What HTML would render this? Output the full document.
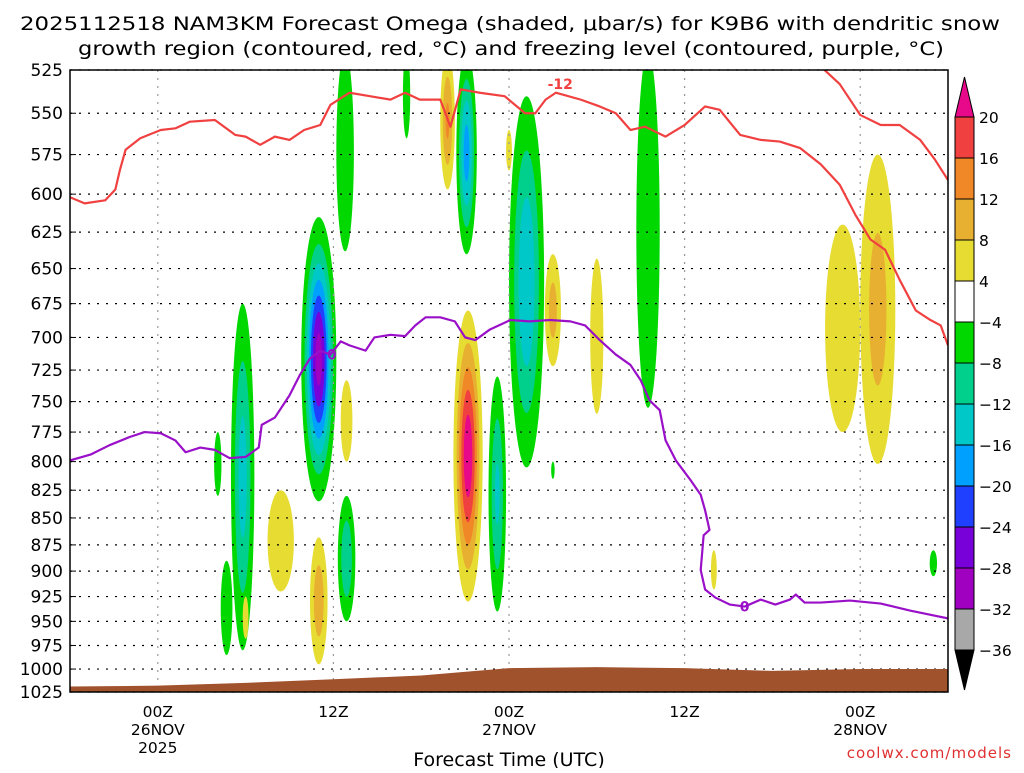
<!DOCTYPE html>
<html><head><meta charset="utf-8"><style>
body{margin:0;background:#fff;}
svg text{font-family:"DejaVu Sans","Liberation Sans",sans-serif;}
</style></head><body>
<svg id="chart" width="1024" height="768" viewBox="0 0 1024 768" xmlns="http://www.w3.org/2000/svg">
<defs><clipPath id="plotclip"><rect x="70" y="70" width="878" height="622"/></clipPath></defs>
<text x="20" y="30" font-size="19" textLength="980" lengthAdjust="spacingAndGlyphs">2025112518 NAM3KM Forecast Omega (shaded, μbar/s) for K9B6 with dendritic snow</text>
<text x="78" y="55" font-size="19" textLength="866" lengthAdjust="spacingAndGlyphs">growth region (contoured, red, °C) and freezing level (contoured, purple, °C)</text>
<g id="shade" clip-path="url(#plotclip)"></g>
<g id="grid"></g>
<g id="terrain" clip-path="url(#plotclip)"></g>
<g id="lines" clip-path="url(#plotclip)"></g>
<rect x="70" y="70" width="878" height="622" fill="none" stroke="#000" stroke-width="1.5"/>
<g id="yaxis"></g>
<g id="xaxis"></g>
<text x="509" y="766" font-size="19" text-anchor="middle">Forecast Time (UTC)</text>
<text x="1012" y="758" font-size="15" fill="#e03030" text-anchor="end" letter-spacing="1">coolwx.com/models</text>
<g id="cbar"></g>
</svg>
<script>
// ---- data ----
const pressureTicks=[525,550,575,600,625,650,675,700,725,750,775,800,825,850,875,900,925,950,975,1000,1025];
const timeTicksHours=[6,18,30,42,54];
const timeTickLabels=[["00Z","26NOV","2025"],["12Z"],["00Z","27NOV"],["12Z"],["00Z","28NOV"]];
const cbarLevels=[20,16,12,8,4,-4,-8,-12,-16,-20,-24,-28,-32,-36];
const cbarColors=["#f04040","#f08828","#e8b030","#e6dc32","#ffffff","#00d800","#00d08c","#00c8c8","#00a0ff","#2040ff","#7800d8","#a000c0","#a8a8a8"];
// blobs: center hour, half-width (h), top pressure, bottom pressure, peak omega
const blobHour=[18.8,17.0,11.8,10.1,10.7,18.9,27.1,31.2,29.2,39.5,23.0,33.0,59.0,27.2,25.8,30.0,33.0,36.0,18.9,14.4,17.0,12.0,52.8,55.2,44.0];
const blobHalfW=[0.6,1.2,0.8,0.25,0.4,0.6,0.7,1.2,0.6,0.8,0.25,0.12,0.25,1.0,0.5,0.2,0.55,0.45,0.4,0.9,0.6,0.2,1.2,1.2,0.2];
const blobPTop=[515,615,675,775,890,830,515,540,730,515,515,800,880,680,515,560,640,643,733,825,868,925,620,575,880];
const blobPBot=[638,835,980,830,985,950,640,805,940,755,565,815,905,930,597,585,722,760,800,920,995,968,775,802,918];
const blobPeak=[-6,-30,-14,-6,-6,-12,-18,-16,-13,-7,-5,-5,-5,23,13,5,10,6,6,6,11,5,6,10,5];
// surface pressure
const sfcHours=[0,6,12,18,24,30,36,42,48,54,60];
const sfcPres=[1019,1018,1015,1011,1007,999,998,999,1002,1000,1000];
// -12C contour (two segments)
const redHours=[0,1,2.4,3.1,3.4,3.8,4.8,6.2,7.2,8.2,9.9,11.3,12,13,14,15,16,17.1,17.8,19.1,20.5,21.9,22.9,23.9,25.3,26,26.7,28,29.7,31.1,31.8,32.5,33.2,34.9,36.2,37.3,38.3,39.3,40.7,42,43.4,44.4,45.8,47.2,48.5,49.9,51.3,52.6,53.7,54.7,55.7,56.7,57.8,58.8,59.5,60];
const redPres=[602,606,604,597,585,572,565,560,559,555,554,563,564,569,564,566,560,557,545,538,540,542,538,542,542,558,536,538,540,550,550,542,538,542,546,550,560,558,564,557,546,548,563,566,567,571,581,594,614,630,637,658,680,687,691,706];
const red2Hours=[51.3,52.6,54,55.4,56.7,58.1,59.1,60];
const red2Pres=[523,533,551,557,557,566,578,591];
// 0C contour
const purpHours=[0,1.4,2.7,4.1,5.1,6.2,7.2,7.9,8.9,9.9,10.9,12,12.9,13.1,14,15,15.7,16.4,17.1,17.8,18.5,19.1,20.2,20.8,21.9,22.9,23.6,24.3,25.3,26.3,27,27.7,28.7,30.1,31.4,32.8,34.2,35.2,36.2,37.3,38.3,39,39.6,40.3,40.7,41.4,42.4,43.1,43.4,43.7,43.3,43.1,43.4,44.1,45.1,46.1,47.2,48.2,49.2,49.6,50.2,51.3,53.3,55.4,57.4,60];
const purpPres=[799,794,786,779,775,776,782,792,788,790,797,796,788,769,763,745,729,716,710,713,703,706,710,700,698,699,691,685,685,688,700,702,694,687,688,687,688,691,702,713,721,733,749,757,782,799,816,829,843,861,866,899,918,926,933,935,928,933,928,923,931,931,929,932,939,947];
// ---- axes ----
const X0=70,X1=948,Y0=70,Y1=692,H0=0,H1=60,P0=525,P1=1025;
const xOf=h=>X0+(h-H0)/(H1-H0)*(X1-X0);
const yOf=p=>Y0+Math.log(p/P0)/Math.log(P1/P0)*(Y1-Y0);
const NS="http://www.w3.org/2000/svg";
function mk(tag,attrs,parent){const e=document.createElementNS(NS,tag);for(const k in attrs)e.setAttribute(k,attrs[k]);parent.appendChild(e);return e;}
function colorOf(v){
  if(v>=20)return "#e8088a";
  if(v>=16)return cbarColors[0]; if(v>=12)return cbarColors[1]; if(v>=8)return cbarColors[2]; if(v>=4)return cbarColors[3];
  if(v>-4)return null;
  const idx=Math.min(12,5+Math.floor((-4-v)/4)); if(v<=-36)return "#000"; return cbarColors[idx];
}
// shading
const shade=document.getElementById('shade');
for(let i=0;i<blobHour.length;i++){
  const pk=blobPeak[i],sg=Math.sign(pk),ap=Math.abs(pk);
  const cx=xOf(blobHour[i]);
  const yt=yOf(blobPTop[i]),yb=yOf(blobPBot[i]);
  const cy=(yt+yb)/2,ry0=(yb-yt)/2,rx0=(xOf(blobHour[i]+blobHalfW[i])-cx);
  const levels=[4];for(let l=8;l<ap;l+=4)levels.push(l);
  if(ap>=20&&sg>0)levels.push(20);
  levels.forEach(l=>{
    if(l>=ap)return;
    const r=Math.sqrt(Math.log(ap/l)/Math.log(ap/4));
    const c=colorOf(sg>0?l:-l-0.01);
    const e=mk('ellipse',{cx:cx,cy:cy,rx:rx0*r,ry:ry0*r,fill:c},shade);
    
    
  });
}
// grid
const grid=document.getElementById('grid');
pressureTicks.forEach(p=>{
  const l=mk('line',{x1:X0,x2:X1,y1:yOf(p),y2:yOf(p),stroke:"#000","stroke-width":1.2,"stroke-dasharray":"2 7"},grid);
  
  
});
timeTicksHours.forEach(h=>{
  const l=mk('line',{x1:xOf(h),x2:xOf(h),y1:Y0,y2:Y1,stroke:"#999","stroke-width":1.2,"stroke-dasharray":"2 6"},grid);
  
  
});
// terrain
let d="M"+xOf(sfcHours[0])+","+(Y1+5);
sfcHours.forEach((h,i)=>{d+=" L"+xOf(h)+","+yOf(sfcPres[i]);});
d+=" L"+xOf(sfcHours[sfcHours.length-1])+","+(Y1+5)+"Z";
const t=mk('path',{d:d,fill:"#a0522d"},document.getElementById('terrain'));


// lines
const lines=document.getElementById('lines');
function poly(hs,ps,col,name){
  const pts=hs.map((h,i)=>xOf(h)+","+yOf(ps[i])).join(" ");
  const e=mk('polyline',{points:pts,fill:"none",stroke:col,"stroke-width":2.2,"stroke-linejoin":"round"},lines);
  
  
}
poly(redHours,redPres,"#f04040","minus12c-contour");
poly(red2Hours,red2Pres,"#f04040","minus12c-contour-2");
poly(purpHours,purpPres,"#9a10c8","freezing-level-contour");
function lab(h,p,txt,col,name){
  const e=mk('text',{x:xOf(h),y:yOf(p)+5,fill:col,"font-size":14,"font-weight":"bold","text-anchor":"middle"},lines);
  e.textContent=txt;
  
  
}
lab(33.5,533,"-12","#f04040","contour-label-minus12");
lab(17.9,713,"0","#9a10c8","contour-label-0");
lab(46.1,935,"0","#9a10c8","contour-label-0b");
// y axis
const ya=document.getElementById('yaxis');
pressureTicks.forEach(p=>{
  const e=mk('text',{x:63,y:yOf(p)+6,"font-size":17,"text-anchor":"end"},ya);
  e.textContent=p;
  
  
  const tk=mk('line',{x1:X0,x2:X0+6,y1:yOf(p),y2:yOf(p),stroke:"#000"},ya);
  
  
});
// x axis
const xa=document.getElementById('xaxis');
timeTicksHours.forEach((h,i)=>{
  timeTickLabels[i].forEach((s,j)=>{
    const e=mk('text',{x:xOf(h),y:717+j*18,"font-size":15.5,"text-anchor":"middle"},xa);
    e.textContent=s;
    
    
  });
});
// colorbar
const cb=document.getElementById('cbar');
const CX=955,CW=19,CT=117,CB=650,step=(CB-CT)/cbarColors.length;
const up=mk('polygon',{points:`${CX},${CT} ${CX+CW},${CT} ${CX+CW/2},${CT-40}`,fill:"#e8088a",stroke:"#000"},cb);


cbarColors.forEach((c,i)=>{
  const r=mk('rect',{x:CX,y:CT+i*step,width:CW,height:step,fill:c,stroke:"#000","stroke-width":1},cb);
  
  
});
const dn=mk('polygon',{points:`${CX},${CB} ${CX+CW},${CB} ${CX+CW/2},${CB+40}`,fill:"#000",stroke:"#000"},cb);


cbarLevels.forEach((v,i)=>{
  const e=mk('text',{x:979,y:CT+i*step+6,"font-size":15.5},cb);
  e.textContent=v<0?"\u2212"+(-v):v;
  
  
});
</script>
</body></html>
